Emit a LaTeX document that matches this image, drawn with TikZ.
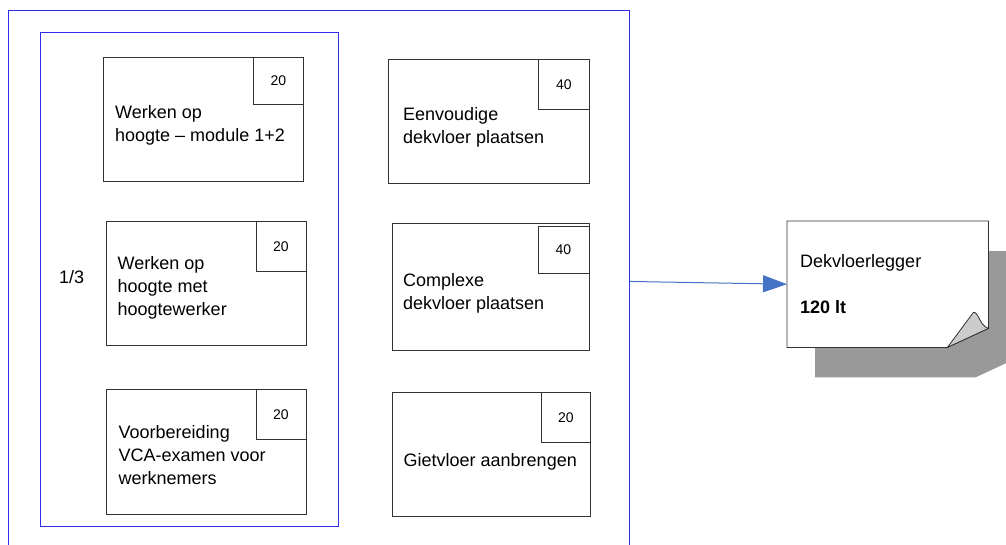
\documentclass[tikz,border=0pt]{standalone}
\usepackage{fontspec}
\setmainfont{Liberation Sans}
\usepackage{tikz}
\usetikzlibrary{calc,arrows.meta}
\definecolor{kaderblauw}{RGB}{45,45,235}
\definecolor{pijlblauw}{RGB}{68,114,196}
\tikzset{
	kader/.style={draw=kaderblauw, line width=0.9pt, anchor=north west, inner sep=0},
	module/.style={draw=black!80, line width=0.8pt, anchor=north west, inner sep=0, minimum width=200, minimum height=124},
	uren/.style={draw=black!80, line width=0.8pt, anchor=north east, inner sep=0, minimum width=50, minimum height=48, font=\fontsize{14}{16}\selectfont},
	omschrijving/.style={anchor=north west, align=left, inner sep=0, font=\fontsize{18}{23}\selectfont},
	pijl/.style={draw=pijlblauw, line width=1pt, -{Triangle[length=24pt,width=17pt]}},
}

\begin{document}
\begin{tikzpicture}[x=1pt,y=-1pt]
			%%%%% START %%%%%
			\useasboundingbox (0,0) rectangle (1006,544);
			
			\node[kader, minimum width=621, minimum height=542] (pakket) at (8,10) {};
			\node[kader, minimum width=298, minimum height=494] (kern) at (40,32) {};
			
			\node[omschrijving] (deel) at (59,270) {1/3};
			
			% linker kolom
			\node[module] (hoogte) at (103,57) {};
			\node[uren, minimum height=47] (hoogteU) at (hoogte.north east) {20};
			\node[omschrijving] (hoogteT) at (115,105) {Werken op\\hoogte -- module 1+2};
			
			\node[module] (hoogwerker) at (105.5,221) {};
			\node[uren, minimum height=50] (hoogwerkerU) at (hoogwerker.north east) {20};
			\node[omschrijving] (hoogwerkerT) at (117.5,256) {Werken op\\hoogte met\\hoogtewerker};
			
			\node[module, minimum height=125] (vca) at (105.5,389) {};
			\node[uren, minimum height=50] (vcaU) at (vca.north east) {20};
			\node[omschrijving] (vcaT) at (118.5,425) {Voorbereiding\\VCA-examen voor\\werknemers};
			
			% rechter kolom
			\node[module, minimum width=201] (eenvoudig) at (388,59) {};
			\node[uren, minimum width=51, minimum height=50] (eenvoudigU) at (eenvoudig.north east) {40};
			\node[omschrijving] (eenvoudigT) at (403,107) {Eenvoudige\\dekvloer plaatsen};
			
			\node[module, minimum width=197, minimum height=127] (complex) at (391.5,223) {};
			\node[uren, minimum width=51, minimum height=47] (complexU) at ($(complex.north east)+(0,2.7)$) {40};
			\node[omschrijving] (complexT) at (403,273) {Complexe\\dekvloer plaatsen};
			
			\node[module, minimum width=198] (giet) at (392,392) {};
			\node[uren, minimum width=49, minimum height=50] (gietU) at (giet.north east) {20};
			\node[omschrijving] (gietT) at (403.5,453) {Gietvloer aanbrengen};
			
			% beroep
			\node[anchor=north west, inner sep=0, minimum width=201, minimum height=126] (vakman) at (787,221) {};
			\fill[black!40] ($(vakman.north west)+(28,30)$) -- ($(vakman.north east)+(28,30)$) -- ($(vakman.south east)+(28,11)$) -- ($(vakman.south east)+(-13,30)$) -- ($(vakman.south west)+(28,30)$) -- cycle;
			\draw[line width=0.8pt, draw=black!80, fill=white] (vakman.north west) -- (vakman.north east) -- ($(vakman.south east)+(0,-19)$) -- ($(vakman.south east)+(-41,0)$) -- (vakman.south west) -- cycle;
			\draw[line width=0.8pt, draw=black!80, fill=black!20] ($(vakman.south east)+(-41,0)$) -- ($(vakman.south east)+(-15,-35)$) .. controls ($(vakman.south east)+(-10,-36)$) and ($(vakman.south east)+(-9,-22)$) .. ($(vakman.south east)+(0,-19)$) -- cycle;
			\node[omschrijving] (vakmanT) at (800,254) {Dekvloerlegger\\[23pt]\textbf{120 lt}};
			
			\draw[pijl] (pakket.east) -- (vakman.west);
			
			%%%%% END %%%%%
\end{tikzpicture}
\end{document}
